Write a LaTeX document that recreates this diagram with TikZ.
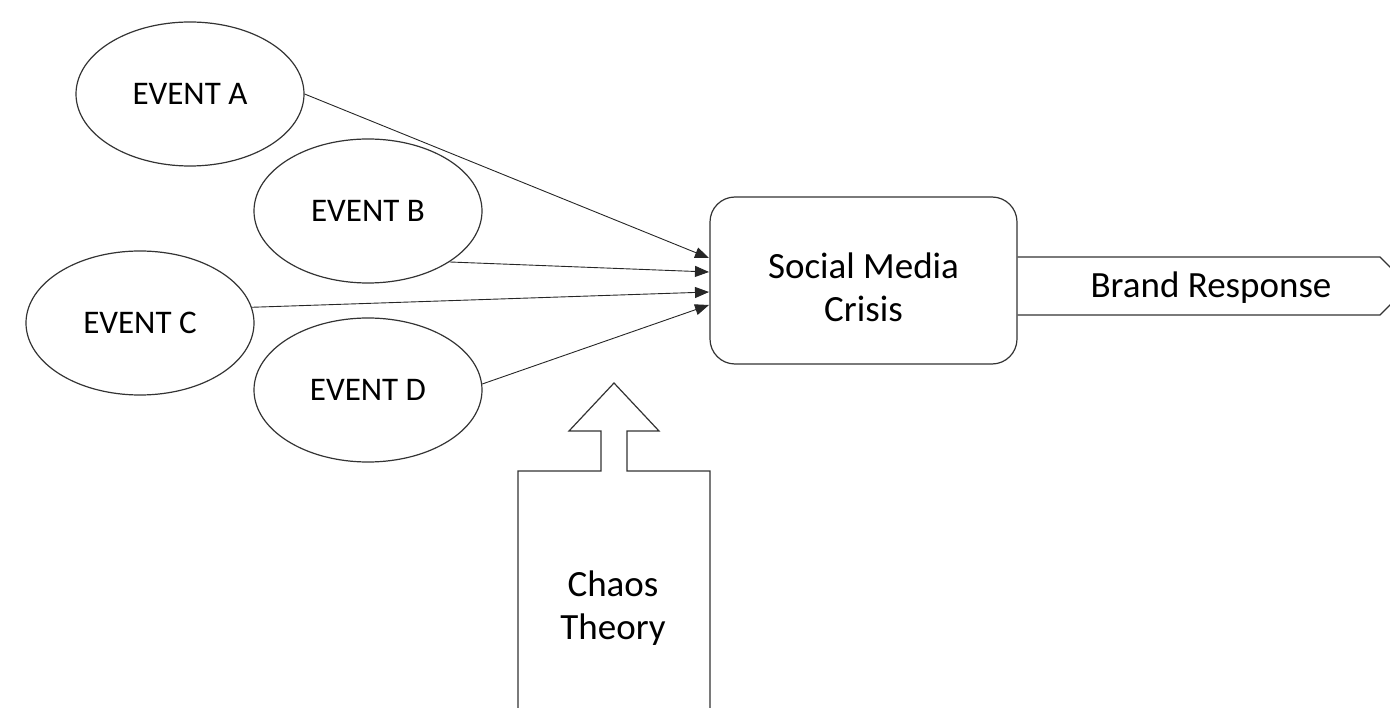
\documentclass[tikz,border=0pt]{standalone}
\usepackage{fontspec}
\setmainfont{Carlito}
\usetikzlibrary{shapes.geometric,arrows.meta}
\tikzstyle{event}=[ellipse,draw=black!80,line width=1.2pt,minimum width=228pt,minimum height=144pt,inner sep=0pt,font=\fontsize{33}{40}\selectfont]
\tikzstyle{label}=[align=center,font=\fontsize{37}{45}\selectfont]
\tikzstyle{link}=[-{Triangle[length=14pt,width=11pt]},line width=0.9pt,black!85]

\begin{document}
\begin{tikzpicture}[x=1pt,y=-1pt]
\useasboundingbox (0, 0) rectangle (1390, 708);
\clip (0, 0) rectangle (1390, 708);
\node[event] at (190, 94) (a) {EVENT A};
\node[event] at (368, 211) (b) {EVENT B};
\node[event] at (140, 323) (c) {EVENT C};
\node[event] at (368, 390) (d) {EVENT D};
\node[draw=black!80,line width=1.2pt,rounded corners=25pt,minimum width=307pt,minimum height=167pt] at (863.5, 280.5) (crisis) {};
\node[label] at (863.5, 287) (crisistext) {Social Media\\[-2pt]Crisis};

\coordinate (ta) at (709, 258);
\coordinate (tb) at (709, 272);
\coordinate (tc) at (709, 292);
\coordinate (td) at (709, 305);
\draw[link] (a.east) -- (ta);
\draw[link] (b.-32) -- (tb);
\draw[link] (c.8) -- (tc);
\draw[link] (d.3) -- (td);

% brand response arrow
\draw[black!80,line width=1.2pt] (crisis.east |- 0, 257) -- (1380, 257) -- (1409, 286) -- (1380, 315) -- (crisis.east |- 0, 315);
\node[label] at (1211, 288) (response) {Brand Response};

% chaos theory block arrow
\draw[black!80,line width=1.2pt] (518, 720) -- (518, 471) -- (601, 471) -- (601, 431) -- (569, 431) -- (614, 383) -- (659, 431) -- (627, 431) -- (627, 471) -- (710, 471) -- (710, 720);
\node[label] at (613, 608) (chaos) {Chaos\\[-2pt]Theory};
\end{tikzpicture}
\end{document}
